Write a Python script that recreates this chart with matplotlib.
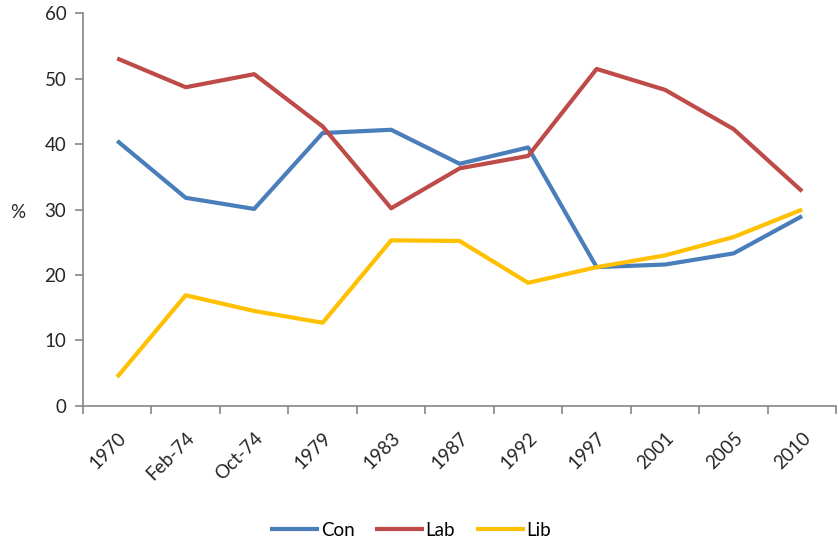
import matplotlib
matplotlib.use("Agg")
import matplotlib.pyplot as plt
import numpy as np

categories = ["1970", "Feb-74", "Oct-74", "1979", "1983", "1987", "1992", "1997", "2001", "2005", "2010"]
con = [40.5, 31.8, 30.1, 41.7, 42.2, 37.0, 39.5, 21.2, 21.6, 23.3, 29.0]
lab = [53.1, 48.7, 50.7, 42.7, 30.2, 36.3, 38.2, 51.5, 48.3, 42.3, 32.8]
lib = [4.4, 16.9, 14.5, 12.7, 25.3, 25.2, 18.8, 21.2, 23.0, 25.8, 30.0]
series_names = ["Con", "Lab", "Lib"]
colors = ["#4A7EBB", "#BE4B48", "#FFC000"]
yticks = [0, 10, 20, 30, 40, 50, 60]

plt.rcParams['font.family'] = ['Lato', 'DejaVu Sans']

fig = plt.figure(figsize=(8.38, 5.44), dpi=100)
ax = fig.add_axes([0.099, 0.254, 0.899, 0.7215])

x = np.arange(len(categories))
for vals, name, c in zip([con, lab, lib], series_names, colors):
    ax.plot(x, vals, color=c, lw=3.0, label=name, solid_joinstyle='round', solid_capstyle='butt')

axis_col = "#868686"
fs = 13.5
txt_col = "#262626"
ax.set_xlim(-0.5, len(categories) - 0.5)
ax.set_ylim(0, 60)
ax.set_yticks(yticks)
ax.set_yticklabels([str(v) for v in yticks], fontsize=fs, color=txt_col)
ax.set_xticks(x)
ax.set_xticklabels(categories, rotation=45, ha='right', va='top', rotation_mode='anchor',
                   fontsize=fs, color=txt_col)
ax.set_xticks(np.arange(-0.5, len(categories) + 0.5, 1), minor=True)
ax.tick_params(axis='x', which='major', length=0, pad=17)
ax.tick_params(axis='x', which='minor', length=6, color=axis_col, width=1.2)
ax.tick_params(axis='y', length=6, color=axis_col, width=1.2, pad=6)
for s in ['top', 'right']:
    ax.spines[s].set_visible(False)
for s in ['left', 'bottom']:
    ax.spines[s].set_color(axis_col)
    ax.spines[s].set_linewidth(1.2)

ax.set_ylabel("%", rotation=0, fontsize=fs, color=txt_col)
ax.yaxis.set_label_coords(-0.087, 0.47)

fig.legend(loc='center', bbox_to_anchor=(0.49, 0.025), ncol=3, frameon=False,
           fontsize=fs, handlelength=2.6, handletextpad=0.1, columnspacing=1.1)

fig.savefig("out.png", dpi=100)
